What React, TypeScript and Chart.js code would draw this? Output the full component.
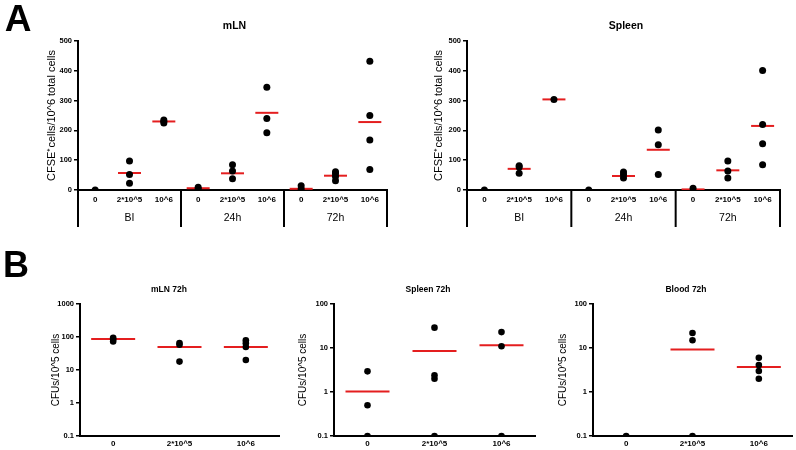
import React, { useEffect, useRef } from 'react';
import { Chart, registerables } from 'chart.js';

Chart.register(...registerables);

const FONT = 'Arial, "Liberation Sans", Helvetica, sans-serif';
const RED = '#e41e1f';

// ---------- labels ----------
const groupLabels = ['BI', '24h', '72h'];
const doseLabels = ['0', '2*10^5', '10^6'];
const linearTicksA = [0, 100, 200, 300, 400, 500];
const logTicksMln = [0.1, 1, 10, 100, 1000];
const logTicksOther = [0.1, 1, 10, 100];

// ---------- Panel A: mLN (9 columns: BI, 24h, 72h x dose) ----------
const mlnAPoints = [
  [0],
  [97, 52, 23],
  [235, 230, 225],
  [9, 3],
  [85, 64, 38],
  [345, 240, 192],
  [14, 3],
  [61, 55, 45, 31],
  [432, 250, 168, 69],
];
const mlnAMeans = [null, 57, 230, 6, 56, 259, 4, 48, 228];

// ---------- Panel A: Spleen ----------
const spleenAPoints = [
  [0],
  [81, 77, 56],
  [304],
  [0],
  [60, 52, 40],
  [201, 152, 52],
  [6],
  [97, 64, 40],
  [401, 220, 155, 85],
];
const spleenAMeans = [null, 71, 304, null, 47, 135, 2, 66, 215];

// ---------- Panel B (log) ----------
const mlnBPoints = [
  [95, 84, 73],
  [66, 58, 18],
  [80, 65, 50, 20],
];
const mlnBMeans = [87, 50, 50];

const spleenBPoints = [
  [2.95, 0.5, 0.1],
  [29, 2.4, 2.0, 0.1],
  [23, 11, 0.1],
];
const spleenBMeans = [1.03, 8.5, 11.5];

const bloodBPoints = [
  [0.1],
  [22, 15, 0.1],
  [6, 4.1, 3.0, 2.0],
];
const bloodBMeans = [null, 9.3, 3.7];

// ---------- helpers ----------
function toXY(cols: number[][]) {
  const out: { x: number; y: number }[] = [];
  cols.forEach((vals, i) => vals.forEach((v) => out.push({ x: i, y: v })));
  return out;
}
function meansXY(means: (number | null)[]) {
  const out: { x: number; y: number }[] = [];
  means.forEach((v, i) => { if (v !== null) out.push({ x: i, y: v }); });
  return out;
}

const groupSeparators = {
  id: 'groupSeparators',
  afterDraw(chart: any) {
    const xs = chart.scales.xg;
    if (!xs) return;
    const n = groupLabels.length;
    const { ctx, chartArea } = chart;
    ctx.save();
    ctx.strokeStyle = '#000';
    ctx.lineWidth = 2;
    for (let i = 0; i <= n; i++) {
      const px = xs.getPixelForValue(i - 0.5);
      ctx.beginPath();
      ctx.moveTo(px, chartArea.bottom);
      ctx.lineTo(px, chart.height - 1);
      ctx.stroke();
    }
    ctx.restore();
  },
};

interface PanelOpts {
  cats: string[];
  points: number[][];
  means: (number | null)[];
  yType: 'linear' | 'logarithmic';
  yMin: number;
  yMax: number;
  yTicks: number[];
  yTickSize: number;
  yWidth: number;
  yTitle: string;
  yTitleSize: number;
  yTitlePad: number;
  padTop: number;
  padRight: number;
  xHeight: number;
  xPad: number;
  groups: boolean;
  meanRadius: number;
  pointRadius: number;
}

function makeConfig(o: PanelOpts): any {
  const scales: any = {
    x: {
      type: 'linear',
      axis: 'x',
      position: 'bottom',
      weight: 0,
      min: -0.5,
      max: o.cats.length - 0.5,
      afterBuildTicks: (s: any) => { s.ticks = o.cats.map((_, i) => ({ value: i })); },
      grid: { display: false, drawTicks: false },
      border: { display: true, color: '#000', width: 2 },
      ticks: {
        color: '#000',
        font: { family: FONT, size: 8, weight: 'bold' },
        padding: o.xPad,
        maxRotation: 0,
        autoSkip: false,
        callback: (v: number) => o.cats[Math.round(v)] ?? '',
      },
      afterFit: (s: any) => { s.height = o.xHeight; },
    },
  };
  if (o.groups) {
    scales.xg = {
      type: 'linear',
      axis: 'x',
      position: 'bottom',
      weight: 1,
      min: -0.5,
      max: groupLabels.length - 0.5,
      afterBuildTicks: (s: any) => { s.ticks = groupLabels.map((_, i) => ({ value: i })); },
      grid: { display: false, drawTicks: false },
      border: { display: false },
      ticks: {
        color: '#000',
        font: { family: FONT, size: 10.5 },
        padding: 5,
        maxRotation: 0,
        autoSkip: false,
        callback: (v: number) => groupLabels[Math.round(v)] ?? '',
      },
      afterFit: (s: any) => { s.height = 21; },
    };
  }
  scales.y = {
    type: o.yType,
    position: 'left',
    min: o.yMin,
    max: o.yMax,
    afterBuildTicks: (s: any) => { s.ticks = o.yTicks.map((v) => ({ value: v })); },
    grid: { display: true, drawOnChartArea: false, drawTicks: true, tickLength: 4, color: '#000', lineWidth: 1.5 },
    border: { display: true, color: '#000', width: 2 },
    ticks: {
      color: '#000',
      font: { family: FONT, size: o.yTickSize, weight: 'bold' },
      padding: 2,
      autoSkip: false,
      callback: (v: number) => String(v),
    },
    title: {
      display: true,
      text: o.yTitle,
      color: '#000',
      font: { family: FONT, size: o.yTitleSize },
      padding: { top: o.yTitlePad, bottom: 0 },
    },
    afterFit: (s: any) => { s.width = o.yWidth; },
  };

  return {
    type: 'scatter',
    data: {
      datasets: [
        {
          data: toXY(o.points),
          xAxisID: 'x',
          yAxisID: 'y',
          pointRadius: o.pointRadius,
          pointBackgroundColor: '#000',
          pointBorderColor: '#000',
          pointBorderWidth: 0,
          showLine: false,
        },
        {
          data: meansXY(o.means),
          xAxisID: 'x',
          yAxisID: 'y',
          pointStyle: 'line',
          pointRadius: o.meanRadius,
          pointBorderColor: RED,
          pointBackgroundColor: RED,
          pointBorderWidth: 2,
          showLine: false,
        },
      ],
    },
    options: {
      responsive: false,
      animation: false,
      events: [],
      layout: { autoPadding: false, padding: { top: o.padTop, right: o.padRight, left: 0, bottom: 0 } },
      plugins: { legend: { display: false }, tooltip: { enabled: false }, title: { display: false } },
      scales,
    },
    plugins: o.groups ? [groupSeparators] : [],
  };
}

function Panel(props: { left: number; top: number; width: number; height: number; opts: PanelOpts }) {
  const ref = useRef<HTMLCanvasElement>(null);
  useEffect(() => {
    const chart = new Chart(ref.current as HTMLCanvasElement, makeConfig(props.opts));
    return () => chart.destroy();
  }, []);
  return (
    <canvas
      ref={ref}
      width={props.width}
      height={props.height}
      style={{ position: 'absolute', left: props.left, top: props.top, width: props.width, height: props.height }}
    />
  );
}

function Label(props: { text: string; cx: number; cy: number; size: number; bold?: boolean }) {
  return (
    <div
      style={{
        position: 'absolute',
        left: props.cx,
        top: props.cy,
        transform: 'translate(-50%, -50%)',
        fontFamily: FONT,
        fontSize: props.size,
        fontWeight: props.bold ? 'bold' : 'normal',
        lineHeight: 1,
        whiteSpace: 'nowrap',
        color: '#000',
      }}
    >
      {props.text}
    </div>
  );
}

const aCats = [...doseLabels, ...doseLabels, ...doseLabels];
const yTitleA = 'CFSE\u207Acells/10^6 total cells';
const yTitleB = 'CFUs/10^5 cells';

export default function App() {
  return (
    <div
      style={{
        position: 'fixed',
        left: 0,
        top: 0,
        width: 796,
        height: 450,
        background: '#fff',
        overflow: 'hidden',
      }}
    >
      <Panel
        left={0}
        top={0}
        width={400}
        height={228}
        opts={{
          cats: aCats, points: mlnAPoints, means: mlnAMeans, yType: 'linear', yMin: 0, yMax: 500,
          yTicks: linearTicksA, yTickSize: 7.5, yWidth: 78, yTitle: yTitleA, yTitleSize: 11, yTitlePad: 45.4,
          padTop: 41, padRight: 13, xHeight: 17, xPad: 5, groups: true, meanRadius: 11.5, pointRadius: 3.5,
        }}
      />
      <Panel
        left={400}
        top={0}
        width={396}
        height={228}
        opts={{
          cats: aCats, points: spleenAPoints, means: spleenAMeans, yType: 'linear', yMin: 0, yMax: 500,
          yTicks: linearTicksA, yTickSize: 7.5, yWidth: 67, yTitle: yTitleA, yTitleSize: 11, yTitlePad: 32.4,
          padTop: 41, padRight: 16, xHeight: 17, xPad: 5, groups: true, meanRadius: 11.5, pointRadius: 3.5,
        }}
      />
      <Panel
        left={0}
        top={280}
        width={290}
        height={170}
        opts={{
          cats: doseLabels, points: mlnBPoints, means: mlnBMeans, yType: 'logarithmic', yMin: 0.1, yMax: 1000,
          yTicks: logTicksMln, yTickSize: 7.5, yWidth: 80, yTitle: yTitleB, yTitleSize: 10, yTitlePad: 50,
          padTop: 24, padRight: 11, xHeight: 14, xPad: 3, groups: false, meanRadius: 22, pointRadius: 3.3,
        }}
      />
      <Panel
        left={290}
        top={280}
        width={250}
        height={170}
        opts={{
          cats: doseLabels, points: spleenBPoints, means: spleenBMeans, yType: 'logarithmic', yMin: 0.1, yMax: 100,
          yTicks: logTicksOther, yTickSize: 7.5, yWidth: 44, yTitle: yTitleB, yTitleSize: 10, yTitlePad: 7,
          padTop: 24, padRight: 5, xHeight: 14, xPad: 3, groups: false, meanRadius: 22, pointRadius: 3.3,
        }}
      />
      <Panel
        left={545}
        top={280}
        width={251}
        height={170}
        opts={{
          cats: doseLabels, points: bloodBPoints, means: bloodBMeans, yType: 'logarithmic', yMin: 0.1, yMax: 100,
          yTicks: logTicksOther, yTickSize: 7.5, yWidth: 48, yTitle: yTitleB, yTitleSize: 10, yTitlePad: 12,
          padTop: 24, padRight: 4, xHeight: 14, xPad: 3, groups: false, meanRadius: 22, pointRadius: 3.3,
        }}
      />
      <Label text="A" cx={18} cy={18} size={37} bold />
      <Label text="B" cx={16} cy={265} size={36} bold />
      <Label text="mLN" cx={234.5} cy={24.5} size={10.5} bold />
      <Label text="Spleen" cx={626} cy={24.5} size={10.5} bold />
      <Label text="mLN 72h" cx={169} cy={289} size={8.5} bold />
      <Label text="Spleen 72h" cx={428} cy={289} size={8.5} bold />
      <Label text="Blood 72h" cx={686} cy={289} size={8.5} bold />
    </div>
  );
}
